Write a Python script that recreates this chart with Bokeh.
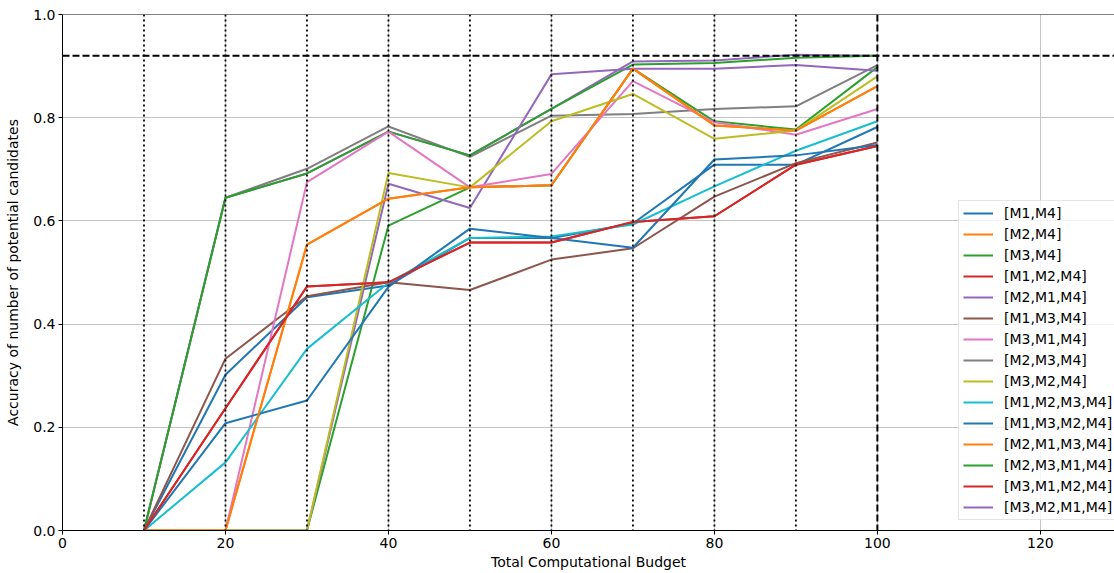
from bokeh.plotting import figure
from bokeh.models import (Range1d, FixedTicker, PrintfTickFormatter, Span,
                          Legend, LegendItem)
from bokeh.embed import file_html
from bokeh.resources import INLINE

# ---------------- data ----------------
budget = [10, 20, 30, 40, 50, 60, 70, 80, 90, 100]

labels = ["[M1,M4]", "[M2,M4]", "[M3,M4]", "[M1,M2,M4]", "[M2,M1,M4]",
          "[M1,M3,M4]", "[M3,M1,M4]", "[M2,M3,M4]", "[M3,M2,M4]",
          "[M1,M2,M3,M4]", "[M1,M3,M2,M4]", "[M2,M1,M3,M4]",
          "[M2,M3,M1,M4]", "[M3,M1,M2,M4]", "[M3,M2,M1,M4]"]

m1_m4 = [0, 0.302, 0.452, 0.475, 0.567, 0.567, 0.595, 0.709, 0.709, 0.782]
m2_m4 = [0, 0, 0.554, 0.643, 0.665, 0.669, 0.895, 0.785, 0.775, 0.861]
m3_m4 = [0, 0.645, 0.692, 0.773, 0.727, 0.817, 0.903, 0.906, 0.916, 0.920]
m1_m2_m4 = [0, 0.237, 0.473, 0.481, 0.558, 0.558, 0.598, 0.609, 0.709, 0.745]
m2_m1_m4 = [0, 0, 0, 0.672, 0.625, 0.884, 0.895, 0.895, 0.902, 0.891]
m1_m3_m4 = [0, 0.333, 0.454, 0.481, 0.466, 0.525, 0.547, 0.647, 0.712, 0.752]
m3_m1_m4 = [0, 0, 0.675, 0.773, 0.665, 0.691, 0.871, 0.791, 0.767, 0.817]
m2_m3_m4 = [0, 0.645, 0.701, 0.783, 0.724, 0.804, 0.807, 0.817, 0.822, 0.902]
m3_m2_m4 = [0, 0, 0, 0.693, 0.665, 0.793, 0.846, 0.759, 0.775, 0.880]
m1_m2_m3_m4 = [0, 0.132, 0.352, 0.480, 0.567, 0.570, 0.593, 0.667, 0.736, 0.793]
m1_m3_m2_m4 = [0, 0.208, 0.252, 0.472, 0.585, 0.567, 0.548, 0.719, 0.727, 0.747]
m2_m1_m3_m4 = [0, 0, 0.554, 0.643, 0.665, 0.669, 0.895, 0.785, 0.775, 0.861]
m2_m3_m1_m4 = [0, 0, 0, 0.591, 0.665, 0.669, 0.895, 0.793, 0.777, 0.898]
m3_m1_m2_m4 = [0, 0.237, 0.473, 0.481, 0.558, 0.558, 0.598, 0.609, 0.709, 0.745]
m3_m2_m1_m4 = [0, 0.645, 0.692, 0.773, 0.727, 0.817, 0.909, 0.911, 0.922, 0.920]

series = [m1_m4, m2_m4, m3_m4, m1_m2_m4, m2_m1_m4, m1_m3_m4, m3_m1_m4,
          m2_m3_m4, m3_m2_m4, m1_m2_m3_m4, m1_m3_m2_m4, m2_m1_m3_m4,
          m2_m3_m1_m4, m3_m1_m2_m4, m3_m2_m1_m4]

tab10 = ["#1f77b4", "#ff7f0e", "#2ca02c", "#d62728", "#9467bd",
         "#8c564b", "#e377c2", "#7f7f7f", "#bcbd22", "#17becf"]

stage_marks = [10, 20, 30, 40, 50, 60, 70, 80, 90]
budget_limit = 100
target_acc = 0.92

x_ticks = [0, 20, 40, 60, 80, 100, 120]
y_ticks = [0.0, 0.2, 0.4, 0.6, 0.8, 1.0]

FONT = "DejaVu Sans"

# ---------------- figure ----------------
p = figure(width=1114, height=573, output_backend="svg", toolbar_location=None,
           x_range=Range1d(0, 129.1), y_range=Range1d(0, 1.0),
           min_border_left=62, min_border_right=0, min_border_top=14,
           min_border_bottom=43)
p.outline_line_color = None
p.background_fill_color = "white"
p.border_fill_color = "white"

# grid
p.xgrid.ticker = FixedTicker(ticks=x_ticks)
p.ygrid.ticker = FixedTicker(ticks=y_ticks)
for g in (p.xgrid, p.ygrid):
    g.grid_line_color = "#c4c4c4"
    g.grid_line_width = 1

# axes
p.xaxis.ticker = FixedTicker(ticks=x_ticks)
p.yaxis.ticker = FixedTicker(ticks=y_ticks)
p.yaxis.formatter = PrintfTickFormatter(format="%.1f")
for ax in (p.xaxis, p.yaxis):
    ax.axis_line_color = "black"
    ax.axis_line_width = 1
    ax.major_tick_line_color = "black"
    ax.major_tick_out = 4
    ax.major_tick_in = 0
    ax.minor_tick_line_color = None
    ax.major_label_text_font = FONT
    ax.major_label_text_font_size = "14px"
    ax.major_label_text_color = "black"
    ax.axis_label_text_font = FONT
    ax.axis_label_text_font_size = "14px"
    ax.axis_label_text_font_style = "normal"
    ax.axis_label_text_color = "black"
    ax.major_label_standoff = 3
p.xaxis.axis_label = "Total Computational Budget"
p.yaxis.axis_label = "Accuracy of number of potential candidates"
p.xaxis.axis_label_standoff = 3
p.yaxis.axis_label_standoff = 9

# top spine
p.add_layout(Span(location=1.0, dimension="width", line_color="black", line_width=1))

# stage lines
for xv in stage_marks:
    p.add_layout(Span(location=xv, dimension="height", line_color="black",
                      line_width=1.8, line_dash="2 3"))
p.add_layout(Span(location=budget_limit, dimension="height", line_color="black",
                  line_width=2, line_dash="7 3"))
p.add_layout(Span(location=target_acc, dimension="width", line_color="black",
                  line_width=2, line_dash="7 3"))

# data lines (draw order chosen so overlaps look like the reference)
draw_order = [14, 12, 7] + [i for i in range(0, 12) if i != 7] + [13]
renderers = {}
for i in draw_order:
    r = p.line(budget, series[i], line_color=tab10[i % 10], line_width=2)
    renderers[i] = r

items = [LegendItem(label=labels[i], renderers=[renderers[i]]) for i in range(len(labels))]
legend = Legend(items=items, location=(896, 10))
legend.label_text_font = FONT
legend.label_text_font_size = "14px"
legend.label_text_color = "black"
legend.glyph_width = 30
legend.glyph_height = 14
legend.label_height = 14
legend.spacing = 5
legend.padding = 4
legend.margin = 0
legend.label_standoff = 11
legend.border_line_color = "#cccccc"
legend.border_line_width = 1
legend.background_fill_color = "white"
legend.background_fill_alpha = 0.8
p.add_layout(legend)

open("out.html", "w").write(file_html(p, INLINE))
